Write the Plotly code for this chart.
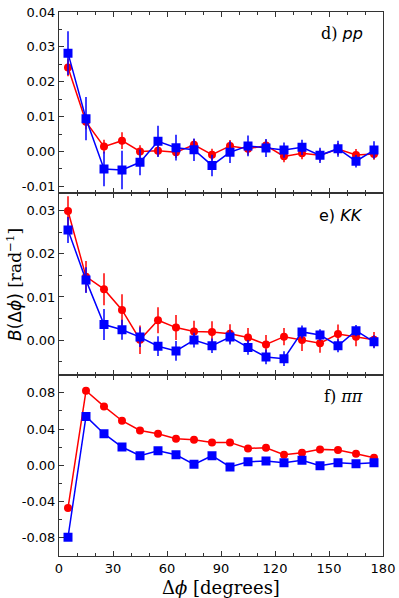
import plotly.graph_objects as go
from plotly.subplots import make_subplots

# bin centres in degrees
dphi = [5, 15, 25, 35, 45, 55, 65, 75, 85, 95, 105, 115, 125, 135, 145, 155, 165, 175]

# d) pp
pp_red = [0.0241, 0.0085, 0.0014, 0.0031, 0.0000, 0.0002, -0.0002, 0.0019, -0.0009,
          0.0016, 0.0008, 0.0017, -0.0014, -0.0005, -0.0011, 0.0007, -0.0010, -0.0007]
pp_red_err = [0.0025, 0.0022, 0.0020, 0.0024, 0.0018, 0.0016, 0.0017, 0.0017, 0.0017,
              0.0017, 0.0017, 0.0017, 0.0017, 0.0017, 0.0017, 0.0017, 0.0017, 0.0017]
pp_blue = [0.0282, 0.0094, -0.0050, -0.0053, -0.0031, 0.0029, 0.0011, 0.0005, -0.0040,
           -0.0002, 0.0016, 0.0010, 0.0004, 0.0012, -0.0011, 0.0008, -0.0028, 0.0004]
pp_blue_err = [0.0063, 0.0062, 0.0050, 0.0055, 0.0037, 0.0045, 0.0037, 0.0032, 0.0031,
               0.0031, 0.0030, 0.0026, 0.0022, 0.0022, 0.0022, 0.0023, 0.0018, 0.0025]

# e) KK
kk_red = [0.0299, 0.0147, 0.0118, 0.0070, 0.0001, 0.0046, 0.0029, 0.0020, 0.0019,
          0.0015, 0.0006, -0.0010, 0.0008, 0.0000, -0.0007, 0.0014, 0.0008, 0.0001]
kk_red_err = [0.0034, 0.0036, 0.0037, 0.0036, 0.0033, 0.0030, 0.0029, 0.0025, 0.0025,
              0.0022, 0.0022, 0.0022, 0.0020, 0.0025, 0.0022, 0.0022, 0.0022, 0.0018]
kk_blue = [0.0255, 0.0139, 0.0036, 0.0024, 0.0007, -0.0014, -0.0025, 0.0000, -0.0013,
           0.0007, -0.0017, -0.0039, -0.0043, 0.0019, 0.0012, -0.0013, 0.0022, -0.0004]
kk_blue_err = [0.0030, 0.0030, 0.0036, 0.0023, 0.0023, 0.0023, 0.0023, 0.0017, 0.0017,
               0.0017, 0.0017, 0.0017, 0.0017, 0.0015, 0.0013, 0.0015, 0.0013, 0.0015]

# f) pi pi
pipi_red = [-0.0470, 0.0822, 0.0650, 0.0492, 0.0385, 0.0349, 0.0294, 0.0283, 0.0253,
            0.0253, 0.0187, 0.0194, 0.0117, 0.0139, 0.0176, 0.0169, 0.0128, 0.0084]
pipi_red_err = [0.003] + [0.002] * 17
pipi_blue = [-0.0793, 0.0540, 0.0349, 0.0202, 0.0106, 0.0161, 0.0117, 0.0011, 0.0106,
             -0.0018, 0.0040, 0.0048, 0.0029, 0.0055, -0.0004, 0.0029, 0.0018, 0.0029]
pipi_blue_err = [0.004] * 7 + [0.003] * 11

panels = [
    (pp_red, pp_red_err, pp_blue, pp_blue_err),
    (kk_red, kk_red_err, kk_blue, kk_blue_err),
    (pipi_red, pipi_red_err, pipi_blue, pipi_blue_err),
]

RED = "#ff0000"
BLUE = "#0000ff"

fig = make_subplots(rows=3, cols=1, shared_xaxes=True, vertical_spacing=0)

for i, (r, re, b, be) in enumerate(panels, start=1):
    fig.add_hline(y=0, line=dict(color="#777777", width=1, dash="dash"), row=i, col=1)
    fig.add_trace(go.Scatter(x=dphi, y=r, mode="lines+markers",
                             line=dict(color=RED, width=1.5),
                             marker=dict(symbol="circle", size=8, color=RED),
                             error_y=dict(type="data", array=re, color=RED, thickness=1.5, width=0),
                             showlegend=False), row=i, col=1)
    fig.add_trace(go.Scatter(x=dphi, y=b, mode="lines+markers",
                             line=dict(color=BLUE, width=1.5),
                             marker=dict(symbol="square", size=9, color=BLUE),
                             error_y=dict(type="data", array=be, color=BLUE, thickness=1.5, width=0),
                             showlegend=False), row=i, col=1)

tickfont = dict(family="DejaVu Sans", size=13, color="black")

fig.update_xaxes(range=[0, 180], tickvals=[0, 30, 60, 90, 120, 150, 180],
                 ticks="inside", ticklen=5, tickcolor="#333", mirror="ticks",
                 showline=True, linecolor="#333", linewidth=1, automargin=False,
                 minor=dict(ticks="inside", dtick=10, ticklen=3, tickcolor="#333"),
                 showgrid=False, zeroline=False, tickfont=tickfont)

yopts = dict(ticks="inside", ticklen=5, tickcolor="#333", showline=True,
             linecolor="#333", linewidth=1, mirror=True, showgrid=False,
             zeroline=False, tickfont=tickfont, automargin=False)

fig.update_yaxes(range=[-0.012, 0.04], tickvals=[-0.01, 0, 0.01, 0.02, 0.03, 0.04],
                 ticktext=["-0.01", "0.00", "0.01", "0.02", "0.03", "0.04"],
                 minor=dict(ticks="inside", dtick=0.005, ticklen=3, tickcolor="#333"),
                 row=1, col=1, **yopts)
fig.update_yaxes(range=[-0.008, 0.034], tickvals=[0, 0.01, 0.02, 0.03],
                 ticktext=["0.00", "0.01", "0.02", "0.03"],
                 minor=dict(ticks="inside", dtick=0.005, ticklen=3, tickcolor="#333"),
                 row=2, col=1, **yopts)
fig.update_yaxes(range=[-0.1, 0.1], tickvals=[-0.08, -0.04, 0, 0.04, 0.08],
                 ticktext=["-0.08", "-0.04", "0.00", "0.04", "0.08"],
                 minor=dict(ticks="inside", dtick=0.02, ticklen=3, tickcolor="#333"),
                 row=3, col=1, **yopts)

# panel labels
labels = [
    '<span style="font-family:DejaVu Serif">d)</span> <i>pp</i>',
    'e) <i>KK</i>',
    '<span style="font-family:DejaVu Serif">f)</span> <i style="font-family:DejaVu Serif">ππ</i>',
]
for i, text in enumerate(labels, start=1):
    yref = "y domain" if i == 1 else f"y{i} domain"
    fig.add_annotation(text=text, xref="x domain", yref=yref, x=0.945, y=0.88,
                       xanchor="right", yanchor="middle", showarrow=False,
                       font=dict(family="DejaVu Sans", size=16, color="black"))

# axis titles
fig.add_annotation(text='<i>B</i>(Δ<i>ϕ</i>) <span style="font-family:DejaVu Serif">[rad<sup>−1</sup>]</span>',
                   xref="paper", yref="paper", x=-0.139, y=0.5, textangle=-90,
                   xanchor="center", yanchor="middle", showarrow=False,
                   font=dict(family="DejaVu Sans", size=17, color="black"))
fig.add_annotation(text='Δ<i>ϕ</i> [degrees]',
                   xref="paper", yref="paper", x=0.5, y=-0.057,
                   xanchor="center", yanchor="middle", showarrow=False,
                   font=dict(family="DejaVu Serif", size=18, color="black"))

fig.update_layout(width=399, height=598, plot_bgcolor="white", paper_bgcolor="white",
                  margin=dict(l=59, r=16, t=12, b=42, autoexpand=False), showlegend=False)

# drop the default page margin so the figure fills the window exactly
fig.write_html("out.html", config={"displayModeBar": False},
               post_script="document.body.style.margin='0';")
